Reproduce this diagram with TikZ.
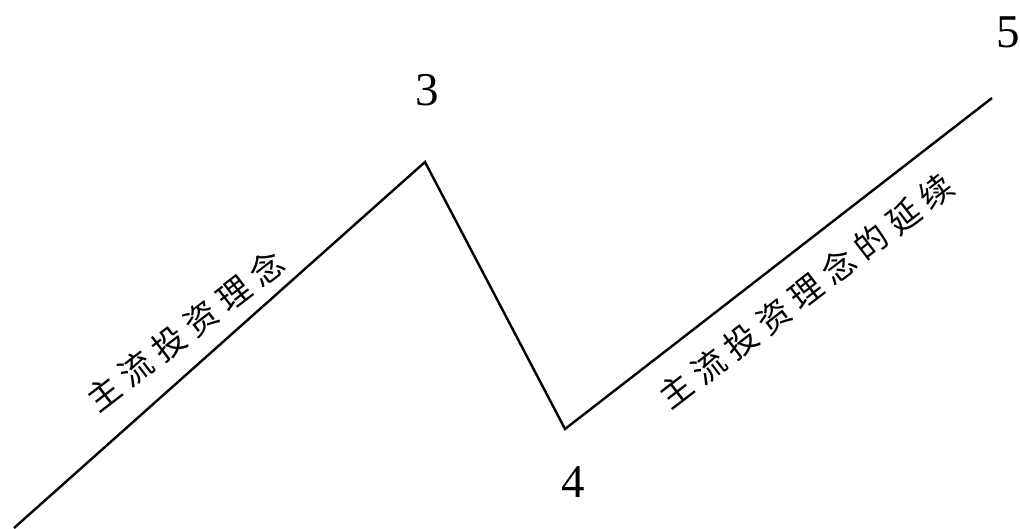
\documentclass[tikz,border=0pt]{standalone}
\usepackage{fontspec}
\setmainfont{Liberation Serif}
\newfontfamily\cjk{Noto Sans CJK SC}
\tikzset{
  zig/.style={line width=2.4pt, line join=miter, black},
  num/.style={inner sep=0pt, font=\fontsize{47}{50}\selectfont},
  cjklabel/.style={inner sep=0pt, rotate=37.5, font=\cjk\fontsize{33}{36}\selectfont}
}
\newcommand{\gp}{\kern8pt}
\begin{document}
\begin{tikzpicture}[x=1pt,y=-1pt]
\useasboundingbox (0,0) rectangle (1020,528);
\coordinate (p0) at (14,528);
\coordinate (p3) at (425,162);
\coordinate (p4) at (565,429);
\coordinate (p5) at (992,98);
\draw[zig] (p0) -- (p3) -- (p4) -- (p5);
\node[num] (n3) at (427,90) {3};
\node[num] (n4) at (573,482) {4};
\node[num] (n5) at (1008,32) {5};
\node[cjklabel] (t1) at (185,331) {主\gp 流\gp 投\gp 资\gp 理\gp 念};
\node[cjklabel] (t2) at (806,291) {主\gp 流\gp 投\gp 资\gp 理\gp 念\gp 的\gp 延\gp 续};
\end{tikzpicture}
\end{document}
